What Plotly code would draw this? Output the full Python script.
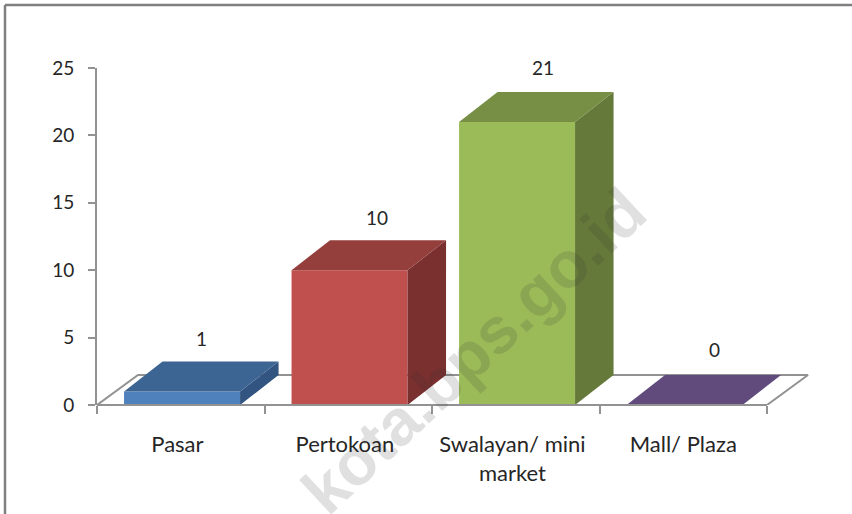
import plotly.graph_objects as go

CATEGORIES = ["Pasar", "Pertokoan", "Swalayan/ mini<br>market", "Mall/ Plaza"]
VALUES = [1, 10, 21, 0]
Y_TICKS = [0, 5, 10, 15, 20, 25]
WATERMARK = "kota.bps.go.id"

FRONT = ["#4F81BD", "#C0504D", "#9BBB59", "#8064A2"]
TOP = ["#3D6594", "#943F3C", "#778F45", "#614A7C"]
SIDE = ["#315480", "#7A302E", "#65793A", "#503D68"]
LABEL_SHIFT = [21, 29, 27, 31]
LABEL_RAISE = [53, 53, 54, 56]
TICK_NUDGE = [-0.02, -0.02, -0.02, 0.0]

W, H = 852, 514
CAT_PX = 167.5
L, R, T, B = 97, 767 + 45, 68, 405
X_MIN, X_MAX = -0.5, 3.5 + 45 / CAT_PX
BAR_W = 116 / CAT_PX
BAR_OFF = 1.3 / CAT_PX
DX, DY = 38.5 / CAT_PX, 30 / 13.48      # 3-D depth in data units
FLOOR_DX = 41 / CAT_PX
GRID = "#929292"
FONT = dict(family="Lato, Carlito, sans-serif", size=19, color="#262626")
X_FONT = dict(family="Lato, Carlito, sans-serif", size=22, color="#262626")


def px(x):
    return (x - L) / (R - L)


def py(y):
    return (B - y) / (B - T)


fig = go.Figure()

# floor outline (beneath the bars, on the primary axes)
fig.add_trace(go.Scatter(
    x=[-0.5, -0.5 + FLOOR_DX, 3.5 + FLOOR_DX, 3.5],
    y=[0, DY, DY, 0],
    mode="lines", line=dict(color=GRID, width=2),
    cliponaxis=False, hoverinfo="skip", showlegend=False,
))

# bars on an overlaying pair of axes so they paint over the floor
for i, v in enumerate(VALUES):
    c = i + BAR_OFF
    x0, x1 = c - BAR_W / 2, c + BAR_W / 2
    fig.add_trace(go.Bar(
        x=[c], y=[v], width=[BAR_W], marker=dict(color=FRONT[i], line=dict(width=0)),
        xaxis="x2", yaxis="y2", showlegend=False,
    ))
    fig.add_trace(go.Scatter(
        x=[x1, x1 + DX, x1 + DX, x1, x1], y=[0, DY, v + DY, v, 0],
        mode="lines", fill="toself", fillcolor=SIDE[i], line=dict(width=0),
        xaxis="x2", yaxis="y2", hoverinfo="skip", showlegend=False,
    ))
    fig.add_trace(go.Scatter(
        x=[x0, x1, x1 + DX, x0 + DX, x0], y=[v, v, v + DY, v + DY, v],
        mode="lines", fill="toself", fillcolor=TOP[i], line=dict(width=0),
        xaxis="x2", yaxis="y2", hoverinfo="skip", showlegend=False,
    ))

annotations = [
    dict(x=i, y=v, xref="x2", yref="y2", text=str(v), showarrow=False,
         xshift=LABEL_SHIFT[i], yshift=LABEL_RAISE[i], yanchor="middle", xanchor="center", font=FONT)
    for i, v in enumerate(VALUES)
]
annotations.append(dict(
    x=px(474), y=py(350), xref="paper", yref="paper", text=WATERMARK, showarrow=False,
    textangle=-43, xanchor="center", yanchor="middle",
    font=dict(family="Liberation Sans, Arial, sans-serif", size=65, color="rgba(50,50,50,0.15)", weight="bold"),
))

border = dict(color="#808080", width=2.5)
shapes = [
    dict(type="line", xref="paper", yref="paper", x0=px(5), x1=px(5), y0=py(5), y1=py(H + 2), line=border),
    dict(type="line", xref="paper", yref="paper", x0=px(5), x1=px(W + 2), y0=py(5), y1=py(5), line=border),
    # the category axis line stops at the last category boundary, short of the floor's depth
    dict(type="line", xref="x", yref="paper", x0=-0.5, x1=3.5, y0=0, y1=0, line=dict(color=GRID, width=2)),
]

fig.update_layout(
    width=W, height=H,
    margin=dict(l=L, r=W - R, t=T, b=H - B, pad=0),
    paper_bgcolor="white", plot_bgcolor="rgba(0,0,0,0)",
    barmode="overlay", showlegend=False, font=FONT,
    annotations=annotations, shapes=shapes,
    xaxis=dict(
        range=[X_MIN, X_MAX], tickmode="array", tickvals=[i + TICK_NUDGE[i] for i in range(len(CATEGORIES))],
        ticktext=CATEGORIES, ticks="", showgrid=False, zeroline=False,
        showline=False, tickfont=X_FONT, ticklabelstandoff=24,
        minor=dict(tickmode="array", tickvals=[-0.5, 0.5, 1.5, 2.5, 3.5], ticks="outside",
                   ticklen=8, tickwidth=2, tickcolor=GRID, showgrid=False),
    ),
    yaxis=dict(
        range=[0, 25], tickmode="array", tickvals=Y_TICKS, ticks="outside", ticklen=7,
        tickwidth=2, tickcolor=GRID, showgrid=False, zeroline=False, showline=True,
        linecolor=GRID, linewidth=2, tickfont=FONT, ticklabelstandoff=10,
    ),
    xaxis2=dict(range=[X_MIN, X_MAX], overlaying="x", visible=False),
    yaxis2=dict(range=[0, 25], overlaying="y", visible=False),
)

fig.write_html("out.html", config=dict(displayModeBar=False),
               post_script="document.body.style.margin='0';document.body.style.overflow='hidden';")
